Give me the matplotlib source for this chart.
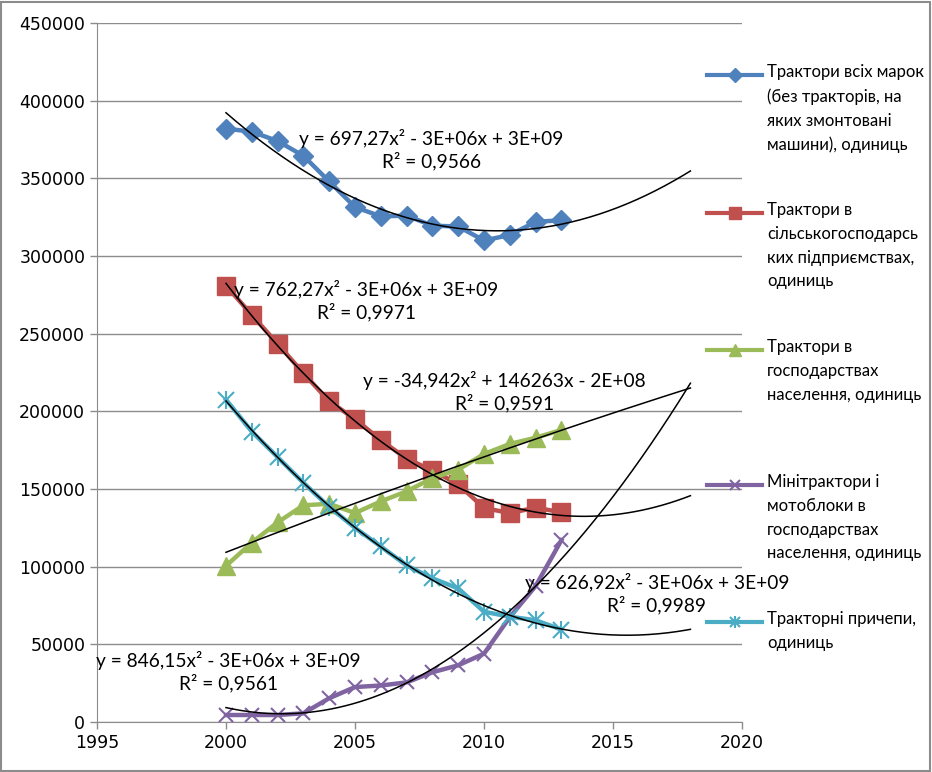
import numpy as np
import matplotlib.pyplot as plt
from matplotlib.lines import Line2D
from matplotlib.patches import Rectangle

years = [2000, 2001, 2002, 2003, 2004, 2005, 2006, 2007, 2008, 2009, 2010, 2011, 2012, 2013]

all_tractors = [382000, 380000, 374000, 364500, 348000, 331500, 325500, 326000, 319500, 319000, 310000, 313500, 322000, 323000]
agri_enterprises = [281000, 262000, 243500, 224500, 206500, 195000, 181500, 169500, 162000, 153000, 137800, 134500, 138000, 135000]
households = [100500, 115500, 128500, 139500, 140500, 134500, 142000, 148500, 157000, 162500, 172500, 179000, 183000, 188000]
mini_tractors = [4500, 4500, 4500, 5600, 15300, 22500, 23500, 25500, 32000, 36500, 44000, 67500, 87500, 117000]
trailers = [207500, 187000, 170500, 154000, 138500, 125000, 113000, 100800, 92500, 86000, 71000, 67800, 65500, 59500]

labels = [
    "Трактори всіх марок\n(без тракторів, на\nяких змонтовані\nмашини), одиниць",
    "Трактори в\nсільськогосподарсь\nких підприємствах,\nодиниць",
    "Трактори в\nгосподарствах\nнаселення, одиниць",
    "Мінітрактори і\nмотоблоки в\nгосподарствах\nнаселення, одиниць",
    "Тракторні причепи,\nодиниць",
]

equations = [
    "y = 697,27x² - 3E+06x + 3E+09\nR² = 0,9566",
    "y = 762,27x² - 3E+06x + 3E+09\nR² = 0,9971",
    "y = -34,942x² + 146263x - 2E+08\nR² = 0,9591",
    "y = 626,92x² - 3E+06x + 3E+09\nR² = 0,9989",
    "y = 846,15x² - 3E+06x + 3E+09\nR² = 0,9561",
]

colors = ['#4F81BD', '#C0504D', '#9BBB59', '#8064A2', '#4BACC6']
series = [all_tractors, agri_enterprises, households, mini_tractors, trailers]
markers = ['D', 's', '^', 'x', 'x']
msizes = [10.5, 12.5, 12.5, 10, 11]

plt.rcParams['font.family'] = ['Lato', 'DejaVu Sans']

fig = plt.figure(figsize=(9.32, 7.72), dpi=100)
ax = fig.add_axes([97 / 932, 1 - 722 / 772, 645 / 932, 699 / 772])

x = np.array(years, dtype=float)
x_fit = np.linspace(2000, 2018, 200)
for vals, c, m, ms in zip(series, colors, markers, msizes):
    mew = 1.5 if m == 'x' else 1
    ax.plot(x, vals, color=c, lw=3.2, marker=m, ms=ms, mew=mew, zorder=3)
# trailers use a star marker (x plus vertical bar)
ax.plot(x, trailers, ls='none', marker='|', ms=13, mew=1.5, color=colors[4], zorder=3)

# polynomial trendlines, forecast to 2018
for vals in series:
    xc = x - 2000
    coef = np.polyfit(xc, vals, 2)
    ax.plot(x_fit, np.polyval(coef, x_fit - 2000), color='black', lw=1.1, zorder=4)

# equation labels (block centres in data coords)
eq_pos = [(2007.95, 368500), (2005.45, 271000), (2010.8, 212500), (2016.7, 82500), (2000.1, 32500)]
for (ex, ey), txt in zip(eq_pos, equations):
    ax.text(ex, ey, txt, ha='center', va='center', fontsize=13.8, linespacing=1.25, zorder=5)

ax.set_xlim(1995, 2020)
ax.set_ylim(0, 450000)
ax.set_xticks(range(1995, 2021, 5))
ax.set_yticks(range(0, 450001, 50000))
ax.yaxis.grid(True, color='#8C8C8C', lw=1)
ax.set_axisbelow(True)
for s in ['top', 'right']:
    ax.spines[s].set_visible(False)
for s in ['left', 'bottom']:
    ax.spines[s].set_color('#8C8C8C')
ax.tick_params(axis='both', colors='#8C8C8C', labelcolor='black', length=5, width=1)
for lab in ax.get_xticklabels() + ax.get_yticklabels():
    lab.set_family('DejaVu Sans')
    lab.set_fontsize(12.5)

# manual legend on the right
leg_y = [75, 213, 350, 485, 622]
for ly, c, m, ms, lab in zip(leg_y, colors, markers, msizes, labels):
    yf = 1 - ly / 772
    fig.add_artist(Line2D([707 / 932, 762 / 932], [yf, yf], color=c, lw=3, transform=fig.transFigure))
    fig.add_artist(Line2D([734.5 / 932], [yf], color=c, marker=m, ms=ms * 0.7,
                          mew=1.5 if m == 'x' else 1, transform=fig.transFigure))
    if lab.startswith("Тракторні"):
        fig.add_artist(Line2D([734.5 / 932], [yf], color=c, marker='|', ms=ms * 0.8, mew=1.5,
                              transform=fig.transFigure))
    fig.text(767 / 932, yf + 11 / 772, lab, ha='left', va='top', fontsize=12, linespacing=1.6)

fig.add_artist(Rectangle((0.001, 0.001), 0.997, 0.997, fill=False, ec='#8C8C8C', lw=1.5,
                         transform=fig.transFigure))

fig.savefig('out.png', dpi=100)
